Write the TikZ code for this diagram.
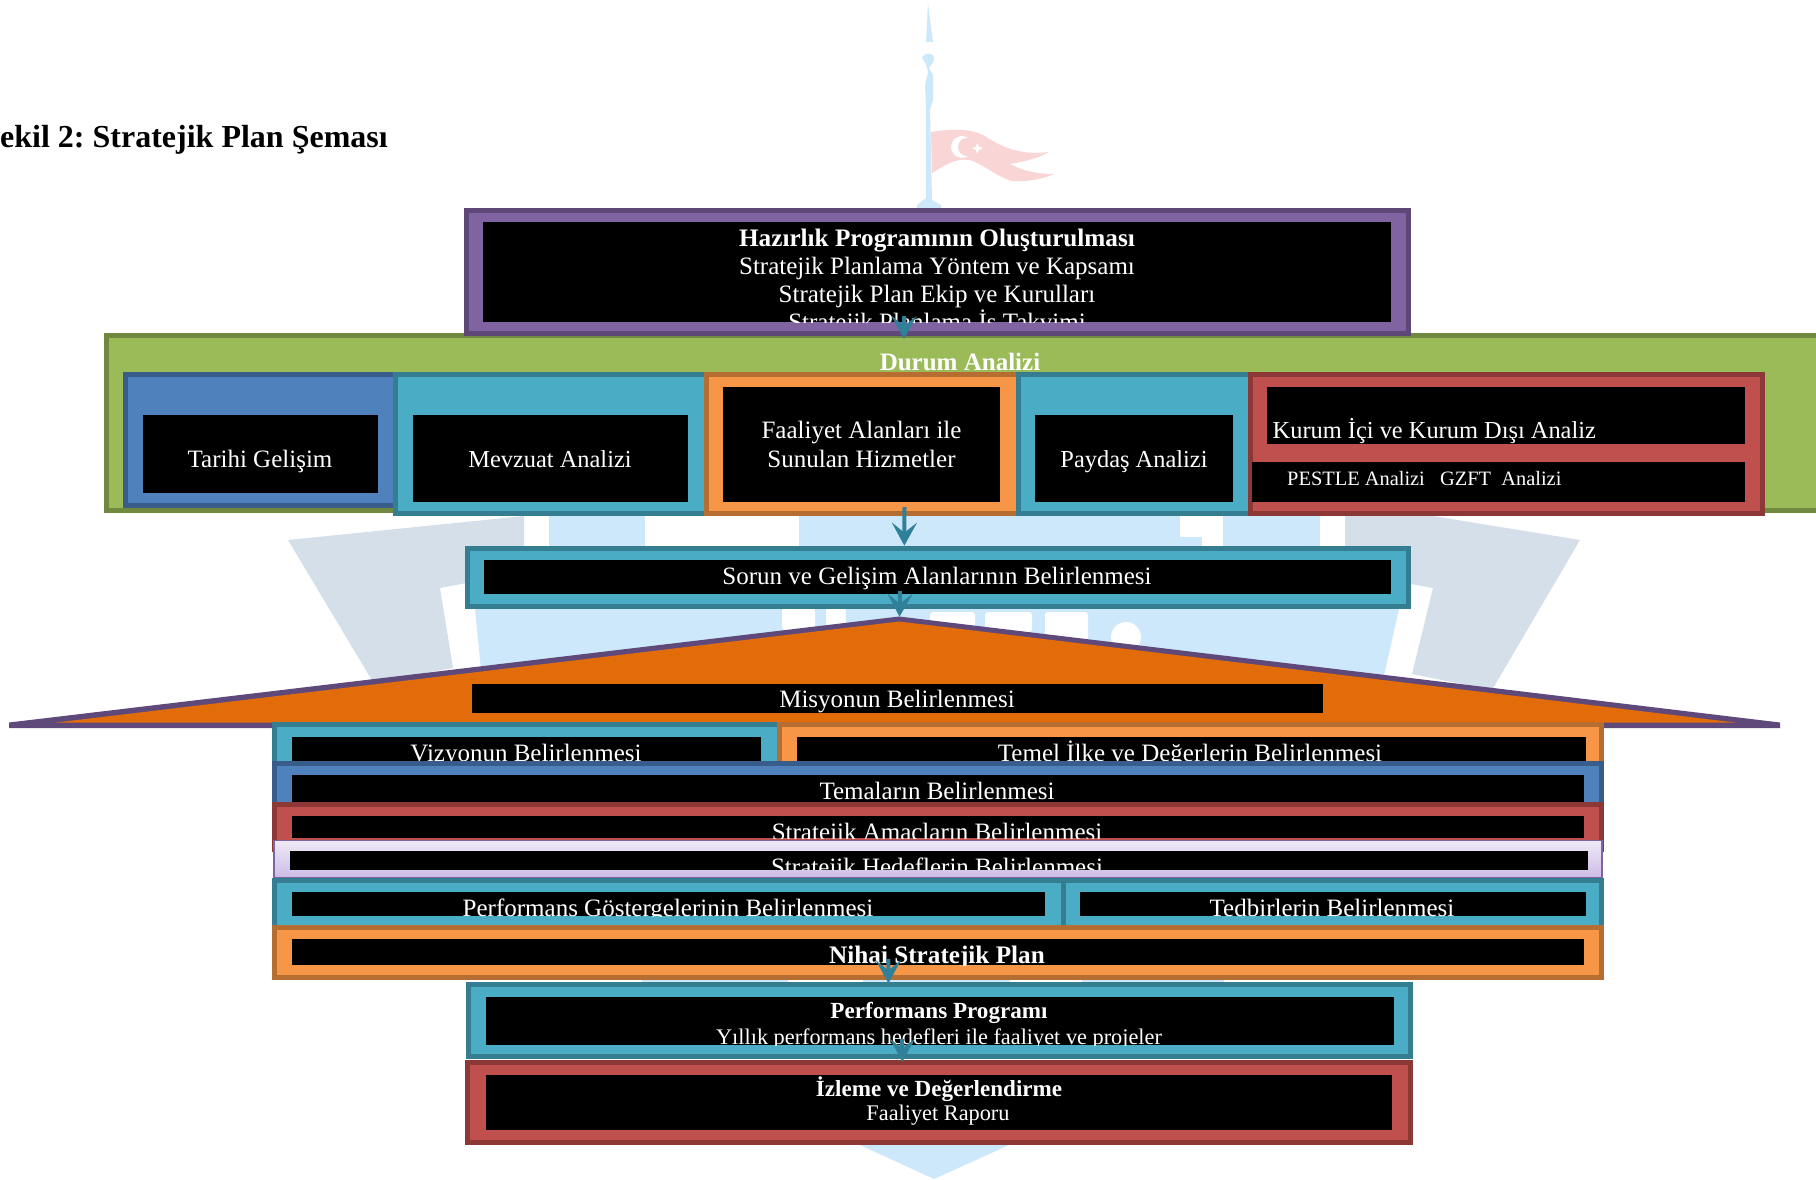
\documentclass[tikz,border=0pt]{standalone}
\usepackage{fontspec}
\setmainfont{Liberation Serif}
\usetikzlibrary{arrows.meta}
\frenchspacing
\definecolor{pale}{HTML}{CDE8FA}
\definecolor{greyw}{HTML}{D5DFEA}
\definecolor{flagw}{HTML}{F9D5D6}
\definecolor{arrowc}{HTML}{31809A}
\definecolor{cPurple}{HTML}{8064A2}\definecolor{dPurple}{HTML}{5C4776}
\definecolor{cGreen}{HTML}{9BBB59}\definecolor{dGreen}{HTML}{71893F}
\definecolor{cBlue}{HTML}{4F81BD}\definecolor{dBlue}{HTML}{385D8A}
\definecolor{cTeal}{HTML}{4BACC6}\definecolor{dTeal}{HTML}{357D91}
\definecolor{cOrange}{HTML}{F79646}\definecolor{dOrange}{HTML}{B66D31}
\definecolor{cRed}{HTML}{C0504D}\definecolor{dRed}{HTML}{8C3836}
\definecolor{lilTop}{HTML}{EEE9F6}\definecolor{lilBot}{HTML}{CDBCE6}
\definecolor{pedEdge}{HTML}{5F497A}\definecolor{pedFill}{HTML}{E36C0A}
\tikzset{
  panelbase/.style={rectangle,draw,line width=5pt,inner sep=0pt,outer sep=2.5pt},
  purplep/.style={panelbase,fill=cPurple,draw=dPurple},
  greenp/.style={panelbase,fill=cGreen,draw=dGreen},
  bluep/.style={panelbase,fill=cBlue,draw=dBlue},
  tealp/.style={panelbase,fill=cTeal,draw=dTeal},
  orangep/.style={panelbase,fill=cOrange,draw=dOrange},
  redp/.style={panelbase,fill=cRed,draw=dRed},
  lilacp/.style={rectangle,draw=cPurple,line width=1.5pt,top color=lilTop,bottom color=lilBot,inner sep=0pt,outer sep=.75pt},
  blackp/.style={rectangle,fill=black,inner sep=0pt,outer sep=0pt},
  reg/.style={text=white,inner sep=0pt,anchor=base,font=\fontsize{25}{30}\selectfont},
  regn/.style={reg,font=\fontsize{24.4}{30}\selectfont},
  regl/.style={regn,anchor=base west},
  boldt/.style={reg,font=\fontsize{25.2}{30}\selectfont\bfseries},
  smallt/.style={reg,font=\fontsize{22.3}{26}\selectfont},
  smalll/.style={reg,anchor=base west,font=\fontsize{20.4}{26}\selectfont},
  smallb/.style={reg,font=\fontsize{23.1}{26}\selectfont\bfseries},
  flow/.style={draw=arrowc,line width=4pt,-{Stealth[length=23pt,width=25pt,inset=10pt]}},
  mark1/.style={fill=pale,draw=none},
  mark2/.style={fill=greyw,draw=none},
  mark3/.style={fill=flagw,draw=none}
}
% name, style, x0,y0,x1,y1 (outer edges)
\newcommand\panel[6]{\node[#2,minimum width={(#5-#3-5)*1pt},minimum height={(#6-#4-5)*1pt}] (#1) at ({(#3+#5)/2},{(#4+#6)/2}) {};}
\newcommand\blk[5]{\node[blackp,minimum width={(#4-#2)*1pt},minimum height={(#5-#3)*1pt}] (#1) at ({(#2+#4)/2},{(#3+#5)/2}) {};}
% name, clipping node, style, x, baseline, text
\newcommand\lbl[6]{\begin{scope}\clip (#2.south west) rectangle (#2.north east);\node[#3] (#1) at (#4,#5) {#6};\end{scope}}
\begin{document}
\begin{tikzpicture}[x=1pt,y=-1pt]
\useasboundingbox (0,0) rectangle (1816,1179);
\fill[white] (0,0) rectangle (1816,1179);
% faded watermark
\path[mark1] (926,42) -- (928,3) -- (930,20) -- (933,42) -- cycle;
\path[mark1] (922,58) .. controls (923,53) and (933,51) .. (934,58) .. controls (934,63) and (930,66) .. (929,68) -- (933,75) -- (933,100) -- (930,110) -- (932,200) -- (941,205) -- (941,208) -- (917,208) -- (917,205) -- (926,198) -- (926,105) -- (925,85) -- (928,72) -- (926,64) -- cycle;
\path[mark3] (931,132) .. controls (950,129) and (970,128) .. (985,136) .. controls (1005,150) and (1025,155) .. (1049,152) .. controls (1035,160) and (1020,162) .. (1010,164) .. controls (1025,172) and (1040,174) .. (1054,174) .. controls (1040,180) and (1025,182) .. (1012,181) .. controls (995,176) and (985,165) .. (970,160) .. controls (955,158) and (945,165) .. (932,173) -- cycle;
\fill[white] (962,147) circle (11);
\fill[flagw] (967,147) circle (9);
\fill[white] (977,143) -- (979,147) -- (983,148) -- (979,150) -- (977,154) -- (976,150) -- (972,148) -- (976,147) -- cycle;
\path[mark2] (288,540) -- (524,516) -- (524,572) -- (440,588) -- (453,668) -- (373,682) -- cycle;
\path[mark2] (1345,516) -- (1433,516) -- (1580,540) -- (1492,690) -- (1412,674) -- (1433,588) -- (1345,572) -- cycle;
\path[mark1] (549,516) rectangle (645,546);
\path[mark1] (799,516) rectangle (1180,546);
\path[mark1] (1180,537) rectangle (1202,546);
\path[mark1] (1223,516) rectangle (1320,546);
\path[mark1] (475,609) -- (1399,609) -- (1383,680) -- (482,680) -- cycle;
\fill[white,rounded corners=3] (782,608) rectangle (815,630);
\fill[white,rounded corners=3] (826,608) rectangle (846,628);
\fill[white,rounded corners=3] (930,612) rectangle (975,632);
\fill[white,rounded corners=3] (985,612) rectangle (1032,632);
\fill[white,rounded corners=3] (1045,612) rectangle (1088,640);
\fill[white] (1126,637) circle (15);
\path[mark1] (642,979) rectangle (788,984);
\path[mark1] (863,979) rectangle (1010,984);
\path[mark1] (1082,979) rectangle (1224,984);
\path[mark1] (860,1145) -- (1009,1145) -- (934,1179) -- cycle;
% title
\node[anchor=base west,inner sep=0pt,font=\fontsize{32}{36}\selectfont\bfseries] (title) at (0,147) {ekil 2: Stratejik Plan Şeması};
% Durum analizi block
\panel{durum}{greenp}{104}{333}{1825}{512.5}
\node[boldt,font=\fontsize{25}{30}\selectfont\bfseries] (durumt) at (960,370) {Durum Analizi};
\panel{haz}{purplep}{464}{207.5}{1411}{336}
\blk{hazb}{483}{222}{1391}{322}
\lbl{haz1}{hazb}{boldt}{937}{246.5}{Hazırlık Programının Oluşturulması}
\lbl{haz2}{hazb}{reg}{937}{274}{Stratejik Planlama Yöntem ve Kapsamı}
\lbl{haz3}{hazb}{reg}{937}{302}{Stratejik Plan Ekip ve Kurulları}
\lbl{haz4}{hazb}{reg}{937}{330}{Stratejik Planlama İş Takvimi}
\panel{tar}{bluep}{123}{372}{398}{508}
\blk{tarb}{142.5}{415.3}{377.5}{493}
\panel{mev}{tealp}{393}{372}{709}{515.5}
\blk{mevb}{412.5}{415.3}{688}{501.5}
\lbl{tart}{tarb}{reg}{260}{467}{Tarihi Gelişim}
\lbl{mevt}{mevb}{regn}{550}{467}{Mevzuat Analizi}
\panel{faal}{orangep}{704}{372}{1021}{515.5}
\blk{faalb}{723}{387}{1000}{501.5}
\lbl{faal1}{faalb}{reg}{861.5}{438}{Faaliyet Alanları ile}
\lbl{faal2}{faalb}{reg}{861.5}{467}{Sunulan Hizmetler}
\panel{pay}{tealp}{1016}{372}{1253}{515.5}
\blk{payb}{1035}{415.3}{1232.5}{501.5}
\lbl{payt}{payb}{regn}{1134}{467}{Paydaş Analizi}
\panel{kur}{redp}{1248}{372}{1765}{516}
\blk{kurb}{1267}{387}{1745}{443.5}
\blk{pesb}{1252}{462.4}{1745}{501.5}
\lbl{kurt}{kurb}{regl}{1272.5}{438}{Kurum İçi ve Kurum Dışı Analiz}
\lbl{pest}{pesb}{smalll}{1287}{485}{PESTLE Analizi\ \ \ GZFT\ \ Analizi}
% Sorun
\panel{sor}{tealp}{465}{545.7}{1411}{609}
\blk{sorb}{483.5}{560}{1391}{594}
\lbl{sort}{sorb}{reg}{937}{584}{Sorun ve Gelişim Alanlarının Belirlenmesi}
% Misyon pediment
\fill[pedEdge] (899,616.5) -- (1780,722.5) -- (1780,728) -- (9,728) -- (9,722.5) -- cycle;
\fill[pedFill] (899,621.5) -- (1735,722.5) -- (56,722.5) -- cycle;
\coordinate (apex) at (899.5,616.7);
\blk{misb}{472}{684}{1322.5}{712.7}
\lbl{mist}{misb}{reg}{897}{707.7}{Misyonun Belirlenmesi}
% stacked rows
\panel{viz}{tealp}{272}{722}{782}{770}
\blk{vizb}{291.5}{737}{761}{770}
\lbl{vizt}{vizb}{reg}{526}{761}{Vizyonun Belirlenmesi}
\panel{tem}{orangep}{777}{722}{1604}{770}
\blk{temb}{796.5}{737}{1585.5}{770}
\lbl{temt}{temb}{reg}{1190}{761}{Temel İlke ve Değerlerin Belirlenmesi}
\panel{tema}{bluep}{272}{760.7}{1604}{810}
\blk{temab}{291.5}{775}{1584}{810}
\lbl{temat}{temab}{reg}{937}{799}{Temaların Belirlenmesi}
\panel{ama}{redp}{272}{801.7}{1604}{852}
\blk{amab}{291.5}{816}{1584}{838}
\lbl{amat}{amab}{reg}{937}{840}{Stratejik Amaçların Belirlenmesi}
\node[lilacp,minimum width=1328pt,minimum height=36.6pt] (hed) at (938,859) {};
\blk{hedb}{290}{851}{1587.5}{869.7}
\lbl{hedt}{hedb}{reg}{937}{875}{Stratejik Hedeflerin Belirlenmesi}
\panel{per}{tealp}{272}{878}{1066}{930}
\blk{perb}{291.5}{892}{1045}{916}
\lbl{pert}{perb}{reg}{668}{916}{Performans Göstergelerinin Belirlenmesi}
\panel{ted}{tealp}{1061}{878}{1604}{930}
\blk{tedb}{1080}{892}{1585.5}{916}
\lbl{tedt}{tedb}{reg}{1332}{916}{Tedbirlerin Belirlenmesi}
\panel{nih}{orangep}{272}{925.3}{1604}{979.7}
\blk{nihb}{291.5}{939}{1584}{965}
\lbl{niht}{nihb}{boldt}{937}{963}{Nihai Stratejik Plan}
\panel{prog}{tealp}{466}{982.3}{1412.5}{1059.3}
\blk{progb}{486}{997}{1393.5}{1045}
\lbl{prog1}{progb}{smallb}{939}{1018.7}{Performans Programı}
\lbl{prog2}{progb}{smallt}{939}{1044}{Yıllık performans hedefleri ile faaliyet ve projeler}
\panel{izl}{redp}{465}{1060.3}{1412.5}{1144.7}
\blk{izlb}{485.5}{1075}{1392}{1130.3}
\lbl{izl1}{izlb}{smallb}{939}{1096.7}{İzleme ve Değerlendirme}
\lbl{izl2}{izlb}{smallt}{938}{1120}{Faaliyet Raporu}
% connectors
\draw[flow] ([xshift=-33.4pt,yshift=20pt]haz.south) -- ([xshift=-60.5pt,yshift=-6pt]durum.north);
\draw[flow] ([xshift=42pt,yshift=8.5pt]faal.south) -- ([xshift=-33.7pt]sor.north);
\draw[flow] ([xshift=-38pt,yshift=18pt]sor.south) -- (apex);
\draw[flow] ([xshift=-49.6pt,yshift=20.7pt]nih.south) -- ([xshift=-50.8pt,yshift=-1pt]prog.north);
\draw[flow] ([xshift=-36.9pt,yshift=20pt]prog.south) -- ([xshift=-36.4pt,yshift=-1.4pt]izl.north);
\end{tikzpicture}
\end{document}
